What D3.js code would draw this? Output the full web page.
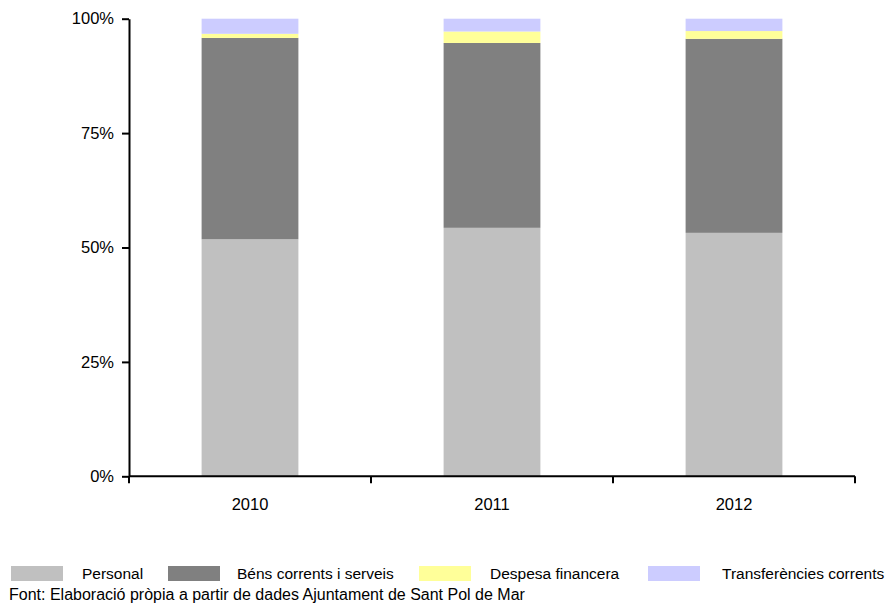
<!DOCTYPE html>
<html>
<head>
<meta charset="utf-8">
<script src="https://cdn.jsdelivr.net/npm/d3@7"></script>
<style>
  body { margin: 0; background: #fff; }
  svg { display: block; }
  text { font-family: "Liberation Sans", Arial, sans-serif; fill: #000; }
</style>
</head>
<body>
<svg id="chart" width="886" height="603"></svg>
<script>
// Despesa corrent per capítols, Ajuntament de Sant Pol de Mar (% del total)
const years = ["2010", "2011", "2012"];
const personal = [51.8, 54.3, 53.2];
const bens = [44.0, 40.4, 42.4];
const financera = [0.9, 2.5, 1.7];
const transferencies = [3.3, 2.8, 2.7];
const seriesNames = ["Personal", "Béns corrents i serveis", "Despesa financera", "Transferències corrents"];
const seriesColors = ["#c0c0c0", "#808080", "#ffff99", "#ccccff"];
const yTicks = [0, 25, 50, 75, 100];
const sourceNote = "Font: Elaboració pròpia a partir de dades Ajuntament de Sant Pol de Mar";

const rows = years.map((y, i) => ({
  year: y,
  [seriesNames[0]]: personal[i],
  [seriesNames[1]]: bens[i],
  [seriesNames[2]]: financera[i],
  [seriesNames[3]]: transferencies[i]
}));

const svg = d3.select("#chart");
const margin = { left: 129, right: 31, top: 18.7, bottom: 126.7 };
const W = 886, H = 603;
const innerW = W - margin.left - margin.right;
const innerH = H - margin.top - margin.bottom;
const FONT = "'Liberation Sans', Arial, sans-serif";

const x = d3.scaleBand().domain(years).range([0, innerW]).paddingInner(0.6).paddingOuter(0.3);
const y = d3.scaleLinear().domain([0, 100]).range([innerH, 0]);

const stacked = d3.stack().keys(seriesNames)(rows);

const g = svg.append("g").attr("transform", `translate(${margin.left},${margin.top})`);

g.selectAll("g.series")
  .data(stacked)
  .join("g")
  .attr("class", "series")
  .attr("fill", (d, i) => seriesColors[i])
  .selectAll("rect")
  .data(d => d)
  .join("rect")
  .attr("x", d => x(d.data.year))
  .attr("width", x.bandwidth())
  .attr("y", d => y(d[1]))
  .attr("height", d => y(d[0]) - y(d[1]));

// Y axis
const yAxis = g.append("g")
  .call(d3.axisLeft(y).tickValues(yTicks).tickFormat(d => d + "%").tickSize(7).tickSizeOuter(0));
yAxis.attr("font-size", null).attr("font-family", null);
yAxis.select(".domain").attr("stroke", "#000").attr("stroke-width", 2);
yAxis.selectAll(".tick line").attr("stroke", "#000").attr("stroke-width", 2);
yAxis.selectAll(".tick text")
  .attr("x", -15)
  .attr("fill", "#000")
  .style("font-size", "16.5px")
  .style("font-family", FONT);

// X axis: ticks at category boundaries
const xAxisG = g.append("g").attr("transform", `translate(0,${innerH})`);
xAxisG.append("line")
  .attr("x1", 0).attr("x2", innerW)
  .attr("y1", 0).attr("y2", 0)
  .attr("stroke", "#000").attr("stroke-width", 2);
const step = innerW / years.length;
const boundaries = d3.range(years.length + 1).map(i => i * step);
xAxisG.selectAll("line.tk")
  .data(boundaries)
  .join("line")
  .attr("class", "tk")
  .attr("x1", d => d).attr("x2", d => d)
  .attr("y1", 0).attr("y2", 7)
  .attr("stroke", "#000").attr("stroke-width", 2);
xAxisG.selectAll("text.lbl")
  .data(years)
  .join("text")
  .attr("class", "lbl")
  .attr("x", d => x(d) + x.bandwidth() / 2)
  .attr("y", 34)
  .attr("text-anchor", "middle")
  .style("font-size", "16.5px")
  .text(d => d);

// Legend
const legendBoxX = [11, 168, 419, 648];
const legendTextX = [82, 237, 490, 722];
const legend = svg.append("g").attr("transform", "translate(0,566)");
seriesNames.forEach((name, i) => {
  legend.append("rect")
    .attr("x", legendBoxX[i]).attr("y", 0)
    .attr("width", 52).attr("height", 15)
    .attr("fill", seriesColors[i]);
  legend.append("text")
    .attr("x", legendTextX[i]).attr("y", 13)
    .style("font-size", "15.5px")
    .text(name);
});

svg.append("text")
  .attr("x", 9).attr("y", 600)
  .style("font-size", "16px")
  .text(sourceNote);
</script>
</body>
</html>
